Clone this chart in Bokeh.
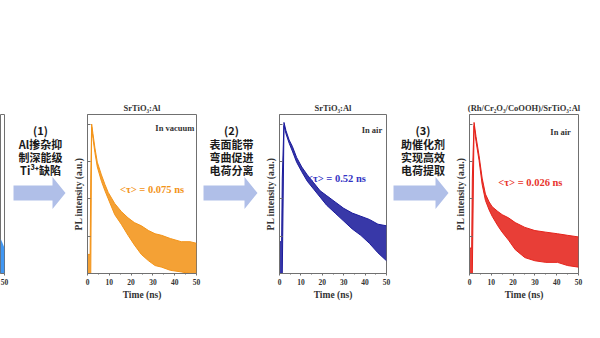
from bokeh.plotting import figure
from bokeh.layouts import row
from bokeh.models import Range1d, FixedTicker, Label, ColumnDataSource
from bokeh.core.properties import value
from bokeh.embed import file_html
from bokeh.resources import INLINE

SERIF = "Liberation Serif"
CJK = "Noto Sans CJK SC"

# ---------------- data ----------------
# partial panel at the far left (only its tail is visible)
T0 = [47.6, 48.5, 49.3, 50.0]
HI0 = [0.22, 0.20, 0.18, 0.16]
LO0 = [0.0, 0.0, 0.0, 0.0]

# SrTiO3:Al in vacuum (orange)
T1 = [0, 1.2, 1.5, 1.9, 2.5, 3.4, 4.5, 6.4, 8, 9.5, 12.5, 15.5, 18.6, 21.5, 24.7, 28, 31, 34, 38, 43, 47, 50]
HI1 = [0.12, 0.12, 0.60, 0.94, 0.88, 0.79, 0.70, 0.62, 0.56, 0.51, 0.44, 0.39, 0.35, 0.32, 0.30, 0.27, 0.25, 0.24, 0.22, 0.20, 0.20, 0.19]
LO1 = [0.0, 0.0, 0.0, 0.92, 0.85, 0.76, 0.67, 0.58, 0.52, 0.47, 0.37, 0.31, 0.24, 0.18, 0.12, 0.08, 0.05, 0.04, 0.02, 0.01, 0.0, 0.0]

# SrTiO3:Al in air (dark blue)
T2 = [0, 1.0, 1.3, 2.1, 3, 4.5, 6, 8, 10.4, 13, 16, 19, 22, 26, 30, 34, 38, 42, 46, 50]
HI2 = [0.20, 0.20, 0.60, 0.95, 0.90, 0.84, 0.80, 0.73, 0.67, 0.62, 0.57, 0.52, 0.49, 0.45, 0.41, 0.38, 0.36, 0.34, 0.31, 0.30]
LO2 = [0.0, 0.0, 0.0, 0.93, 0.88, 0.82, 0.77, 0.70, 0.64, 0.58, 0.53, 0.48, 0.43, 0.38, 0.33, 0.28, 0.24, 0.19, 0.13, 0.08]

# (Rh/Cr2O3/CoOOH)/SrTiO3:Al in air (red)
T3 = [0, 1.0, 1.3, 2.1, 3, 4.4, 5.8, 7.3, 9, 10.4, 13, 15, 17.9, 21, 25.4, 30, 35, 40.4, 45, 50]
HI3 = [0.16, 0.16, 0.60, 0.95, 0.86, 0.74, 0.60, 0.50, 0.45, 0.42, 0.39, 0.37, 0.35, 0.32, 0.29, 0.27, 0.26, 0.25, 0.24, 0.23]
LO3 = [0.0, 0.0, 0.0, 0.93, 0.83, 0.71, 0.56, 0.46, 0.40, 0.36, 0.30, 0.26, 0.21, 0.15, 0.10, 0.08, 0.07, 0.07, 0.05, 0.04]

X_TICKS = [0, 10, 20, 30, 40, 50]
Y_TICKS = [0.0, 0.235, 0.47, 0.705, 0.94]

TITLES = ["SrTiO\u2083:Al", "SrTiO\u2083:Al", "(Rh/Cr\u2082O\u2083/CoOOH)/SrTiO\u2083:Al"]
CONDITIONS = ["In vacuum", "In air", "In air"]
TAUS = ["<\u03c4> = 0.075 ns", "<\u03c4> = 0.52 ns", "<\u03c4> = 0.026 ns"]
STEPS = [
    ["(1)", "Al\u63ba\u6742\u6291", "\u5236\u6df1\u80fd\u7ea7", "Ti\u00b3\u207a\u7f3a\u9677"],
    ["(2)", "\u8868\u9762\u80fd\u5e26", "\u5f2f\u66f2\u4fc3\u8fdb", "\u7535\u8377\u5206\u79bb"],
    ["(3)", "\u52a9\u50ac\u5316\u5242", "\u5b9e\u73b0\u9ad8\u6548", "\u7535\u8377\u63d0\u53d6"],
]

H = 338
TOP = 114
BOTTOM = 65
FRAME_C = "#707070"
TEXT_C = "#333333"
ARROW_C = "#b0bfe8"


def style_xaxis(p):
    ax = p.xaxis[0]
    ax.ticker = FixedTicker(ticks=X_TICKS, minor_ticks=[5, 15, 25, 35, 45])
    ax.axis_line_color = FRAME_C
    ax.major_tick_line_color = FRAME_C
    ax.minor_tick_line_color = FRAME_C
    ax.major_tick_out = 2
    ax.major_tick_in = 0
    ax.minor_tick_out = 1
    ax.minor_tick_in = 0
    ax.major_label_text_font = SERIF
    ax.major_label_text_font_style = "bold"
    ax.major_label_text_font_size = "7.5px"
    ax.major_label_text_color = TEXT_C
    ax.major_label_standoff = 3


def panel(width, L, R, title, t, hi, lo, color, tau_color, cond, tau, cond_xy, tau_xy):
    p = figure(width=width, height=H, output_backend="svg", toolbar_location=None,
               x_range=Range1d(0, 50), y_range=Range1d(0, 1),
               min_border_left=L, min_border_right=R, min_border_top=TOP, min_border_bottom=BOTTOM)
    p.grid.visible = False
    p.outline_line_color = FRAME_C
    p.outline_line_width = 1
    p.background_fill_color = "white"
    p.border_fill_color = "white"
    p.title.text = title
    p.title.text_font = SERIF
    p.title.text_font_style = "bold"
    p.title.text_font_size = "8.5px"
    p.title.text_color = TEXT_C
    p.title.align = "center"
    p.title.standoff = 4
    style_xaxis(p)
    p.xaxis.axis_label = "Time (ns)"
    p.xaxis.axis_label_text_font = SERIF
    p.xaxis.axis_label_text_font_style = "bold"
    p.xaxis.axis_label_text_font_size = "9.5px"
    p.xaxis.axis_label_text_color = TEXT_C
    p.xaxis.axis_label_standoff = 2
    ay = p.yaxis[0]
    # unlabeled ticks: drawn as minor ticks pointing inward
    ay.ticker = FixedTicker(ticks=[], minor_ticks=Y_TICKS)
    ay.axis_line_color = FRAME_C
    ay.minor_tick_line_color = FRAME_C
    ay.minor_tick_in = 3
    ay.minor_tick_out = 0
    ay.major_tick_in = 0
    ay.major_tick_out = 0
    ay.major_label_standoff = 0
    ay.axis_label = "PL intensity (a.u.)"
    ay.axis_label_text_font = SERIF
    ay.axis_label_text_font_style = "bold"
    ay.axis_label_text_font_size = "9.5px"
    ay.axis_label_text_color = TEXT_C
    ay.axis_label_standoff = 4

    src = ColumnDataSource(dict(t=t, hi=hi, lo=lo))
    p.varea(x="t", y1="lo", y2="hi", source=src, fill_color=color, fill_alpha=0.88)
    p.line(x="t", y="hi", source=src, line_color=color, line_width=1)
    p.line(x="t", y="lo", source=src, line_color=color, line_width=1)

    p.add_layout(Label(x=cond_xy[0], y=cond_xy[1], text=cond, text_font=SERIF,
                       text_font_style="bold", text_font_size="8.5px", text_color=TEXT_C,
                       text_align="right", text_baseline="middle"))
    p.add_layout(Label(x=tau_xy[0], y=tau_xy[1], text=tau, text_font=SERIF,
                       text_font_style="bold", text_font_size="10.5px", text_color=tau_color,
                       text_align="center", text_baseline="middle"))
    return p


def arrow_fig(width, lines, text_cx, x0, x_base, x_tip):
    # frame aligned with the panels' frames; y data = page pixel rows
    p = figure(width=width, height=H, output_backend="svg", toolbar_location=None,
               x_range=Range1d(0, width), y_range=Range1d(H - BOTTOM, TOP),
               min_border_left=0, min_border_right=0,
               min_border_top=TOP, min_border_bottom=BOTTOM,
               x_axis_location=None, y_axis_location=None)
    p.grid.visible = False
    p.outline_line_color = None
    p.background_fill_color = "white"
    p.border_fill_color = "white"
    ys = [129, 143, 156, 169]
    p.text(x=[text_cx] * len(lines), y=ys, text=lines, text_font=value(CJK),
           text_font_style="bold", text_font_size="11px", text_color="#1a1a1a",
           text_align="center", text_baseline="middle")
    yc, bh, hh = 192.5, 7.5, 16
    p.patch(x=[x0, x_base, x_base, x_tip, x_base, x_base, x0],
            y=[yc - bh, yc - bh, yc - hh, yc, yc + hh, yc + bh, yc + bh],
            fill_color=ARROW_C, line_color=None)
    return p


# partial panel on the far left
p0 = figure(width=12, height=H, output_backend="svg", toolbar_location=None,
            x_range=Range1d(47.6, 50), y_range=Range1d(0, 1),
            min_border_left=0, min_border_right=8, min_border_top=TOP, min_border_bottom=BOTTOM,
            y_axis_location=None)
p0.grid.visible = False
p0.outline_line_color = FRAME_C
style_xaxis(p0)
src0 = ColumnDataSource(dict(t=T0, hi=HI0, lo=LO0))
p0.varea(x="t", y1="lo", y2="hi", source=src0, fill_color="#2b8cf2", fill_alpha=0.9)

a1 = arrow_fig(58, STEPS[0], 28, 1, 40, 53)
p1 = panel(131, 16, 5, TITLES[0], T1, HI1, LO1, "#f39419", "#f39419",
           CONDITIONS[0], TAUS[0], (49, 0.915), (29.6, 0.53))
a2 = arrow_fig(61, STEPS[1], 30, 2, 43, 56)
p2 = panel(129, 15, 5, TITLES[1], T2, HI2, LO2, "#1c1c9c", "#3434c4",
           CONDITIONS[1], TAUS[1], (48, 0.9), (26.6, 0.60))
a3 = arrow_fig(61, STEPS[2], 31.5, 2, 44, 57)
p3 = panel(148, 15, 22, TITLES[2], T3, HI3, LO3, "#e5231b", "#e8342c",
           CONDITIONS[2], TAUS[2], (46.5, 0.89), (27.9, 0.57))

layout = row(p0, a1, p1, a2, p2, a3, p3, spacing=0)
open("out.html", "w").write(file_html(layout, INLINE))
